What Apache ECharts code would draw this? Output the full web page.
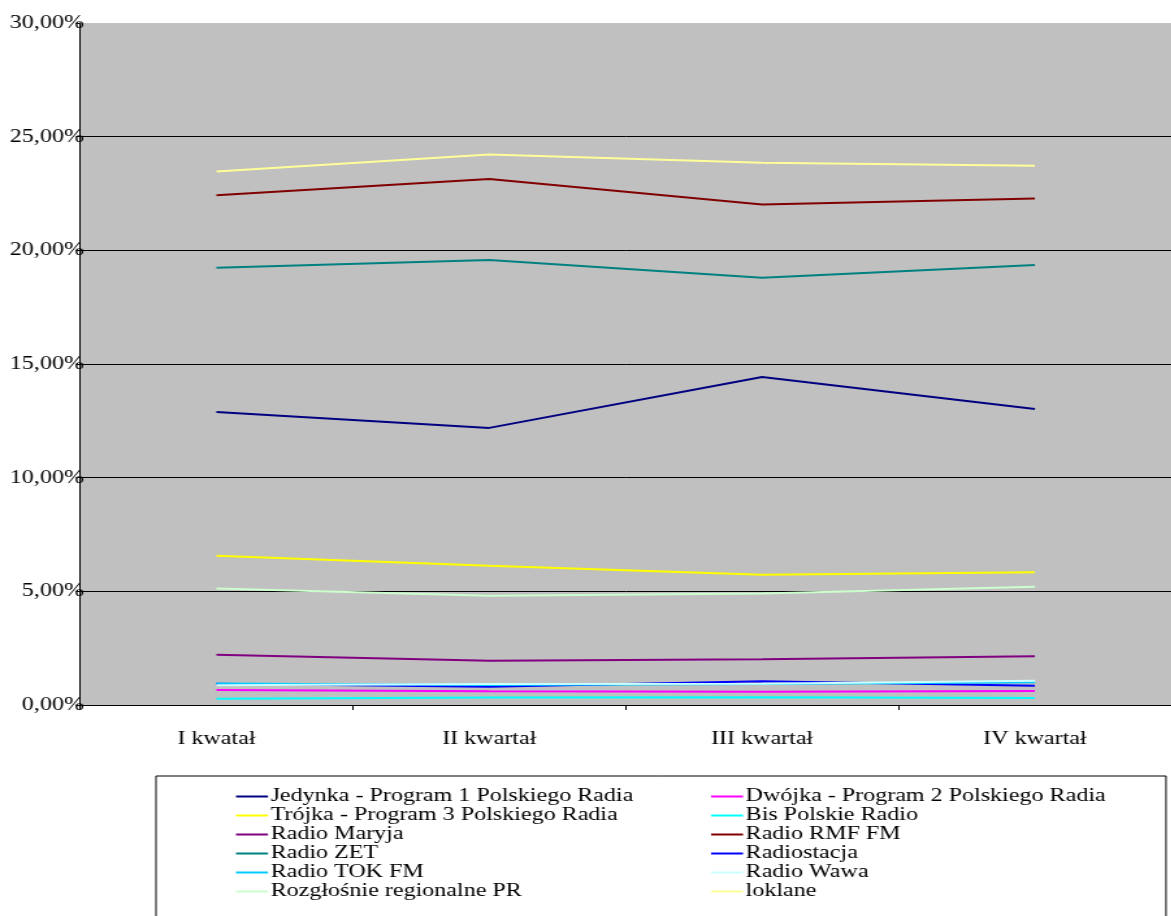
<!DOCTYPE html>
<html>
<head>
<meta charset="utf-8">
<script src="https://cdn.jsdelivr.net/npm/echarts@6/dist/echarts.min.js"></script>
<style>
html,body{margin:0;padding:0;background:#fff;overflow:hidden;width:1171px;height:916px;}
#chart{width:900.77px;height:916px;transform:scaleX(1.3);transform-origin:0 0;}
</style>
</head>
<body>
<div id="chart"></div>
<script>
const categories = ['I kwatał', 'II kwartał', 'III kwartał', 'IV kwartał'];

const jedynka     = [12.89, 12.19, 14.43, 13.02];
const dwojka      = [0.66, 0.60, 0.58, 0.62];
const trojka      = [6.56, 6.12, 5.73, 5.84];
const bis         = [0.28, 0.33, 0.34, 0.31];
const maryja      = [2.21, 1.95, 2.01, 2.14];
const rmf         = [22.42, 23.14, 22.02, 22.28];
const zet         = [19.23, 19.58, 18.79, 19.36];
const radiostacja = [0.93, 0.80, 1.04, 0.85];
const tokfm       = [0.95, 0.88, 0.92, 1.00];
const wawa        = [0.87, 0.92, 0.93, 1.07];
const regionalne  = [5.12, 4.81, 4.90, 5.20];
const loklane     = [23.47, 24.22, 23.85, 23.72];

const seriesNames = [
  'Jedynka - Program 1 Polskiego Radia', 'Dwójka - Program 2 Polskiego Radia',
  'Trójka - Program 3 Polskiego Radia', 'Bis Polskie Radio',
  'Radio Maryja', 'Radio RMF FM',
  'Radio ZET', 'Radiostacja',
  'Radio TOK FM', 'Radio Wawa',
  'Rozgłośnie regionalne PR', 'loklane'
];
const seriesData = [jedynka, dwojka, trojka, bis, maryja, rmf, zet, radiostacja, tokfm, wawa, regionalne, loklane];
const seriesColors = ['#000080', '#FF00FF', '#FFFF00', '#00FFFF', '#800080', '#800000',
                      '#008080', '#0000FF', '#00CCFF', '#CCFFFF', '#CCFFCC', '#FFFF99'];

const S = 1.3; // horizontal stretch of the container
const FONT = "'Liberation Serif', 'Times New Roman', serif";

const chart = echarts.init(document.getElementById('chart'));

const series = seriesNames.map((n, i) => ({
  name: n,
  type: 'line',
  data: seriesData[i],
  symbol: 'none',
  smooth: false,
  color: seriesColors[i],
  lineStyle: { width: 2, color: seriesColors[i] },
  emphasis: { disabled: true },
  animation: false
}));

const legendCommon = {
  orient: 'vertical',
  top: 787,
  padding: 0,
  itemGap: 0,
  icon: 'rect',
  itemWidth: 32 / S,
  itemHeight: 2,
  textStyle: { fontFamily: FONT, fontSize: 18.5, color: '#000', lineHeight: 18.5, padding: [0, 0, 0, -3] },
  selectedMode: false
};

chart.setOption({
  animation: false,
  backgroundColor: '#fff',
  grid: {
    left: 80 / S, top: 23, width: 1102 / S, height: 682,
    show: true, backgroundColor: '#C0C0C0', borderWidth: 0, containLabel: false
  },
  xAxis: {
    type: 'category',
    data: categories,
    boundaryGap: true,
    axisLine: { show: true, lineStyle: { color: '#000', width: 1 } },
    axisTick: { show: true, length: 5, lineStyle: { color: '#000' } },
    axisLabel: { fontFamily: FONT, fontSize: 18.5, color: '#000', margin: 25 }
  },
  yAxis: {
    type: 'value',
    min: 0, max: 30, interval: 5,
    axisLine: { show: true, lineStyle: { color: '#000', width: 1 } },
    axisTick: { show: true, length: 3, lineStyle: { color: '#000' } },
    splitLine: { show: true, lineStyle: { color: ['#000', '#000', '#000', '#000', '#000', '#000', '#C0C0C0'], width: 1 } },
    axisLabel: {
      fontFamily: FONT, fontSize: 18.5, color: '#000', margin: -3,
      formatter: v => v.toFixed(2).replace('.', ',') + '%'
    }
  },
  legend: [
    Object.assign({}, legendCommon, { left: 236 / S, data: seriesNames.filter((n, i) => i % 2 === 0) }),
    Object.assign({}, legendCommon, { left: 711 / S, data: seriesNames.filter((n, i) => i % 2 === 1) })
  ],
  graphic: [{
    type: 'rect',
    shape: { x: 156 / S, y: 776, width: 1010 / S, height: 160 },
    style: { fill: 'none', stroke: '#000', lineWidth: 1 },
    z: -1
  }],
  series: series
});
</script>
</body>
</html>
